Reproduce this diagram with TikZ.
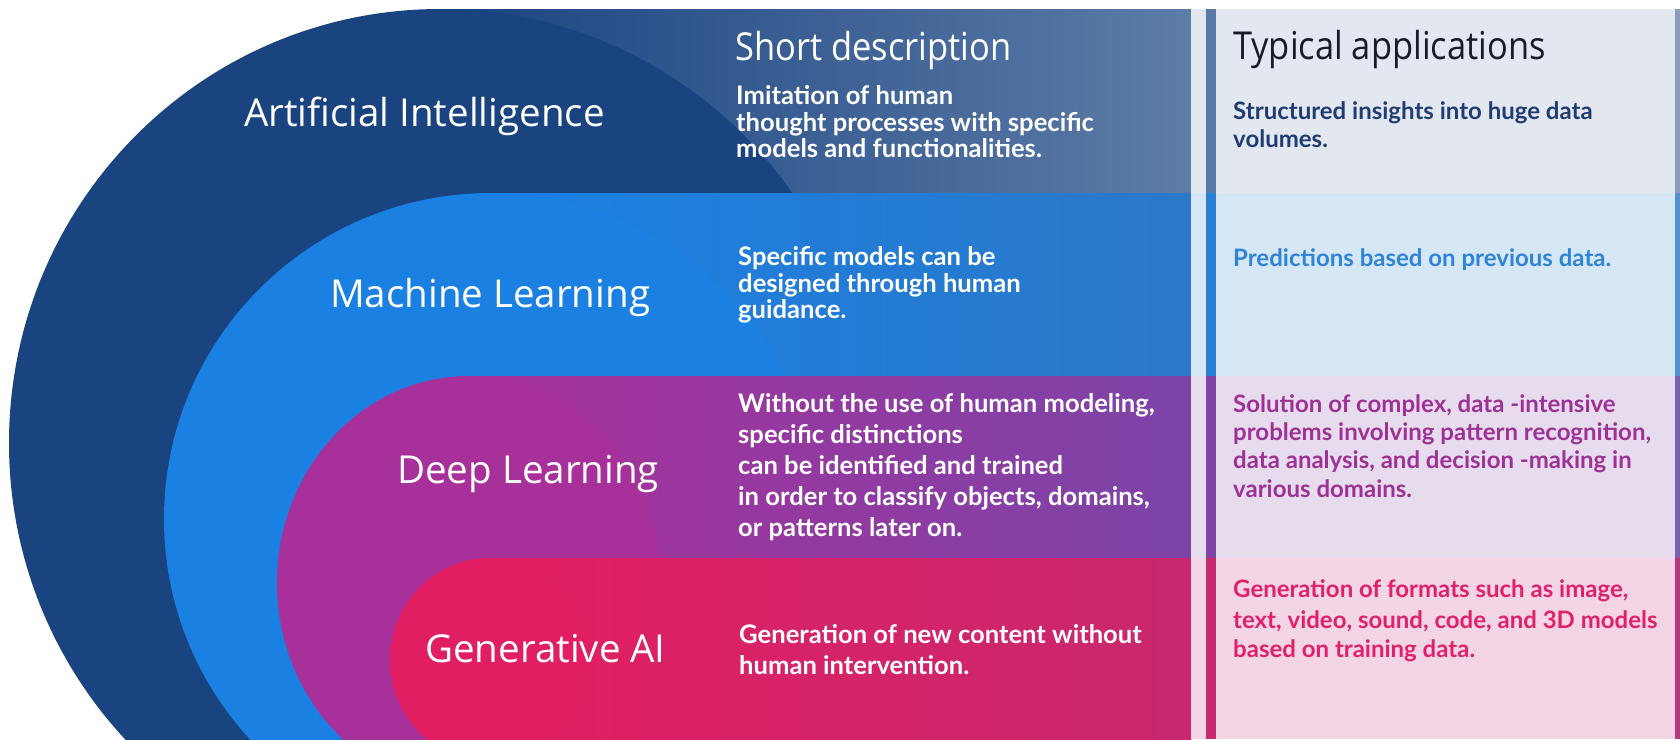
\documentclass[tikz,border=0pt]{standalone}
\usepackage{fontspec}
\setmainfont{Lato}
\newfontfamily\osans{Open Sans}
\definecolor{aiC}{HTML}{1A4480}
\definecolor{aiR}{HTML}{5D7CA8}
\definecolor{mlC}{HTML}{1A80E2}
\definecolor{mlR}{HTML}{2B78C8}
\definecolor{dlC}{HTML}{A8309A}
\definecolor{dlR}{HTML}{7C44A8}
\definecolor{gaC}{HTML}{E21E62}
\definecolor{gaR}{HTML}{C8286E}
\definecolor{aiT}{HTML}{E3E7EF}
\definecolor{mlT}{HTML}{D5E6F5}
\definecolor{dlT}{HTML}{E6DCEE}
\definecolor{gaT}{HTML}{F3D5E5}
\definecolor{aiS}{HTML}{5A78A8}
\definecolor{mlS}{HTML}{2C80D4}
\definecolor{dlS}{HTML}{8044A6}
\definecolor{gaS}{HTML}{C82A70}
\definecolor{aiE}{HTML}{8C9CBA}
\definecolor{mlE}{HTML}{5890CC}
\definecolor{dlE}{HTML}{7A62AA}
\definecolor{gaE}{HTML}{B43C7C}
\definecolor{aiX}{HTML}{1F3D73}
\definecolor{mlX}{HTML}{2F84D8}
\definecolor{dlX}{HTML}{9E3096}
\definecolor{gaX}{HTML}{E0206A}
\definecolor{headD}{HTML}{1A1A28}
\newcommand{\hdtext}[1]{\scalebox{0.895}[1]{#1}}
\begin{document}
\begin{tikzpicture}[x=1pt,y=-1pt,
  lab/.style={font=\osans\fontsize{38.5}{40}\selectfont, text=white, anchor=base west, inner sep=0pt},
  desc/.style={font=\bfseries\fontsize{25.6}{27}\selectfont, text=white, anchor=base west, inner sep=0pt},
  app/.style={font=\bfseries\fontsize{24}{26}\selectfont, anchor=base west, inner sep=0pt}]
\useasboundingbox (0,0) rectangle (1680,739);
\fill[white] (0,0) rectangle (1680,739);
\clip (0,0) rectangle (1680,739);
% Artificial Intelligence layer
\shade[left color=aiC, right color=aiR] (440,9) rectangle (1191,739);
\fill[aiC] (440,443) ellipse [x radius=431, y radius=434];
% Machine Learning layer
\shade[left color=mlC, right color=mlR] (491,193) rectangle (1191,739);
\fill[mlC] (491,519) ellipse [x radius=327, y radius=326];
% Deep Learning layer
\shade[left color=dlC, right color=dlR] (469,376) rectangle (1191,739);
\fill[dlC] (469,583) ellipse [x radius=192, y radius=207];
% Generative AI layer
\shade[left color=gaC, right color=gaR] (490,558) rectangle (1191,739);
\fill[gaC] (490,660) ellipse [x radius=100, y radius=102];
% applications column
\fill[aiT] (1191,9) rectangle (1675,193);
\fill[mlT] (1191,193) rectangle (1675,376);
\fill[dlT] (1191,376) rectangle (1675,558);
\fill[gaT] (1191,558) rectangle (1675,739);
\fill[aiS] (1206,9) rectangle (1216,193);
\fill[mlS] (1206,193) rectangle (1216,376);
\fill[dlS] (1206,376) rectangle (1216,558);
\fill[gaS] (1206,558) rectangle (1216,739);
\fill[aiE] (1675,9) rectangle (1680,193);
\fill[mlE] (1675,193) rectangle (1680,376);
\fill[dlE] (1675,376) rectangle (1680,558);
\fill[gaE] (1675,558) rectangle (1680,739);
% layer labels
\node[lab] (lai) at (244,126) {Artificial Intelligence};
\node[lab] (lml) at (330,307) {Machine Learning};
\node[lab] (ldl) at (397,483) {Deep Learning};
\node[lab] (lga) at (425,662) {Generative AI};
% headings
\node[lab] (hdesc) at (735,60) {\hdtext{Short description}};
\node[lab, text=headD] (happ) at (1233,59) {\hdtext{Typical applications}};
% descriptions
\node[desc] (d1a) at (736,104) {Imitation of human};
\node[desc] (d1b) at (736,131) {thought processes with specific};
\node[desc] (d1c) at (736,157) {models and functionalities.};
\node[desc] (d2a) at (738,265) {Specific models can be};
\node[desc] (d2b) at (738,292) {designed through human};
\node[desc] (d2c) at (738,318) {guidance.};
\node[desc] (d3a) at (738,412) {Without the use of human modeling,};
\node[desc] (d3b) at (738,443) {specific distinctions};
\node[desc] (d3c) at (738,474) {can be identified and trained};
\node[desc] (d3d) at (738,505) {in order to classify objects, domains,};
\node[desc] (d3e) at (738,536) {or patterns later on.};
\node[desc] (d4a) at (739,643) {Generation of new content without};
\node[desc] (d4b) at (739,674) {human intervention.};
% applications
\node[app, text=aiX] (a1a) at (1233,119) {Structured insights into huge data};
\node[app, text=aiX] (a1b) at (1233,147) {volumes.};
\node[app, text=mlX] (a2a) at (1233,266) {Predictions based on previous data.};
\node[app, text=dlX] (a3a) at (1233,412) {Solution of complex, data -intensive};
\node[app, text=dlX] (a3b) at (1233,440) {problems involving pattern recognition,};
\node[app, text=dlX] (a3c) at (1233,468) {data analysis, and decision -making in};
\node[app, text=dlX] (a3d) at (1233,497) {various domains.};
\node[app, text=gaX] (a4a) at (1233,597) {Generation of formats such as image,};
\node[app, text=gaX] (a4b) at (1233,628) {text, video, sound, code, and 3D models};
\node[app, text=gaX] (a4c) at (1233,657) {based on training data.};
\end{tikzpicture}
\end{document}
